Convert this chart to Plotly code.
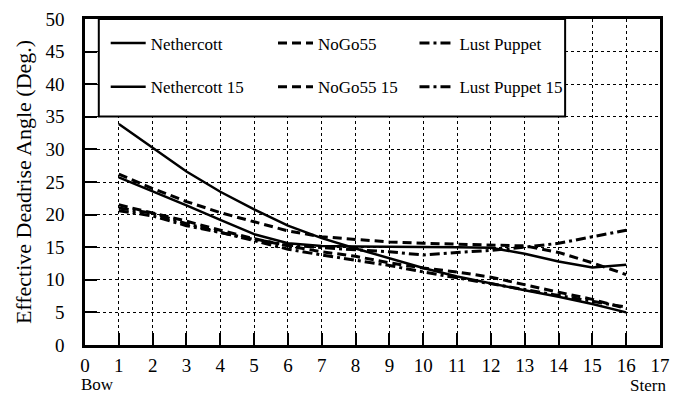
import plotly.graph_objects as go

stations = list(range(1, 17))

nethercott = [33.9, 30.2, 26.6, 23.5, 20.8, 18.3, 16.4, 14.8, 13.3, 11.8, 10.5, 9.4, 8.4, 7.4, 6.3, 5.0]
nethercott_15 = [25.7, 23.6, 21.4, 19.2, 17.0, 15.6, 15.2, 15.1, 15.1, 15.1, 15.0, 14.9, 14.0, 12.8, 11.9, 12.3]
nogo55 = [26.2, 24.0, 22.0, 20.3, 18.9, 17.5, 16.6, 16.2, 15.8, 15.6, 15.5, 15.4, 15.2, 14.2, 12.6, 10.8]
nogo55_15 = [21.5, 20.3, 19.0, 17.6, 16.3, 15.2, 14.3, 13.6, 12.6, 11.8, 11.2, 10.4, 9.2, 8.1, 7.0, 5.6]
lust_puppet = [20.6, 19.8, 18.3, 17.2, 16.2, 15.3, 14.9, 14.6, 14.3, 13.8, 14.2, 14.5, 15.0, 15.6, 16.6, 17.6]
lust_puppet_15 = [21.0, 20.2, 18.6, 17.3, 16.0, 14.7, 13.8, 13.0, 12.2, 11.2, 10.3, 9.4, 8.5, 7.5, 6.6, 5.8]

series_names = ["Nethercott", "NoGo55", "Lust Puppet",
                "Nethercott 15", "NoGo55 15", "Lust Puppet 15"]
series_values = [nethercott, nogo55, lust_puppet,
                 nethercott_15, nogo55_15, lust_puppet_15]

x_tick_vals = list(range(0, 18))
y_tick_vals = list(range(0, 51, 5))
x_title_left = "Bow"
x_title_right = "Stern"
y_title = "Effective Deadrise Angle (Deg.)"

SERIF = "Liberation Serif"
dashes = ["solid", "9px,5px", "10px,4px,3px,4px",
          "solid", "9px,5px", "10px,4px,3px,4px"]
widths = [2.5, 3, 3, 2.5, 3, 3]

# legend slot positions (paper coordinates) for a 3 x 2 grid
leg_x = [0.036, 0.327, 0.573]
leg_y = [0.925, 0.791]
legend_ids = ["legend", "legend2", "legend3", "legend4", "legend5", "legend6"]

fig = go.Figure()
for i, (name, vals) in enumerate(zip(series_names, series_values)):
    fig.add_trace(go.Scatter(
        x=stations, y=vals, mode="lines", name=name,
        line=dict(color="black", width=widths[i], dash=dashes[i]),
        legend=legend_ids[i],
    ))

legend_layout = {}
for i, lid in enumerate(legend_ids):
    legend_layout[lid] = dict(
        x=leg_x[i % 3], y=leg_y[i // 3], xanchor="left", yanchor="middle",
        bgcolor="rgba(0,0,0,0)", borderwidth=0, itemwidth=35,
        font=dict(family=SERIF, size=17, color="black"),
    )

axis_common = dict(
    showline=True, mirror=True, linecolor="black", linewidth=2.5,
    showgrid=True, gridcolor="black", gridwidth=1.3, griddash="dot",
    ticks="inside", ticklen=12, tickwidth=1.5, tickcolor="black",
    zeroline=False, automargin=False,
    tickfont=dict(family=SERIF, size=19, color="black"),
)

fig.update_layout(
    width=673, height=402,
    margin=dict(l=85, r=13, t=19, b=57, autoexpand=False),
    paper_bgcolor="white", plot_bgcolor="white",
    showlegend=True,
    xaxis=dict(range=[0, 17], tickvals=x_tick_vals, ticklabelstandoff=1, **axis_common),
    yaxis=dict(range=[0, 50], tickvals=y_tick_vals, ticklabelstandoff=14,
               title=dict(text=y_title, standoff=8,
                          font=dict(family=SERIF, size=22, color="black")),
               **axis_common),
    shapes=[dict(type="rect", xref="paper", yref="paper",
                 x0=0.024, x1=0.835, y0=0.701, y1=1.0,
                 fillcolor="white", line=dict(color="black", width=2), layer="above")],
    annotations=[
        dict(text=x_title_left, x=0, y=-0.12, xref="x", yref="paper",
             xanchor="left", yanchor="middle", xshift=-6, showarrow=False,
             font=dict(family=SERIF, size=17, color="black")),
        dict(text=x_title_right, x=17, y=-0.125, xref="x", yref="paper",
             xanchor="right", yanchor="middle", xshift=8, showarrow=False,
             font=dict(family=SERIF, size=17, color="black")),
    ],
    **legend_layout,
)

fig.write_html("out.html", config={"displayModeBar": False},
               post_script="document.body.style.margin='0px';")
